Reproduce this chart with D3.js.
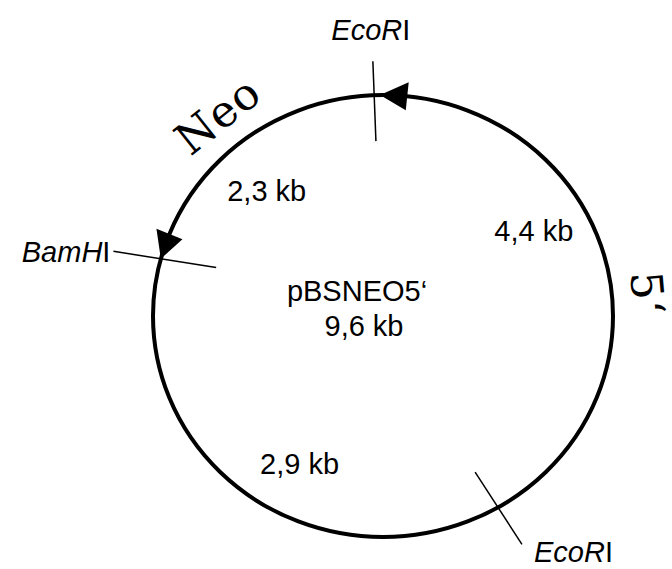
<!DOCTYPE html>
<html>
<head>
<meta charset="utf-8">
<script src="https://cdn.jsdelivr.net/npm/d3@7"></script>
<style>
html, body { margin: 0; padding: 0; background: #fff; }
</style>
</head>
<body>
<svg id="map" width="672" height="569"></svg>
<script>
// plasmid
const plasmidName = "pBSNEO5‘"
const plasmidSize = "9,6 kb"

// restriction sites (angle in degrees, clockwise from top)
const siteItalic = ["EcoR", "BamH", "EcoR"]
const siteRoman = ["I", "I", "I"]
const siteAngles = [-2.2, 285, 150]

// fragment sizes and where they sit inside the ring
const fragmentLabels = ["4,4 kb", "2,9 kb", "2,3 kb"]
const fragmentAngles = [59.6, 208.5, -41.7]

// features written along the outside of the ring
const featureNames = ["Neo", "5‘"]
const featureAngles = [-38.5, 85]

// direction arrows (tip angle), pointing counter-clockwise
const arrowAngles = [-0.75, 285]

const svg = d3.select("#map")
const cx = 383, cy = 316, rx = 230, ry = 221
const deg = d3.scaleLinear().domain([0, 360]).range([0, 2 * Math.PI])
const sans = "'Liberation Sans', Arial, sans-serif"

// point on the ring at angle a, pushed out by d pixels, turned by tilt degrees
const at = (a, d = 0, tilt = 0) => {
	const t = deg(a)
	const p = [cx + rx * Math.sin(t), cy - ry * Math.cos(t)]
	const u = deg(a + tilt)
	return [p[0] + d * Math.sin(u), p[1] - d * Math.cos(u)]
}

svg.append("ellipse")
	.attr("cx", cx)
	.attr("cy", cy)
	.attr("rx", rx)
	.attr("ry", ry)
	.attr("fill", "none")
	.attr("stroke", "#000")
	.attr("stroke-width", 4)

// arrow heads
svg.selectAll(".arrow")
	.data(arrowAngles)
	.enter()
	.append("path")
	.attr("class", "arrow")
	.attr("fill", "#000")
	.attr("d", a => {
		const tip = at(a)
		const b = a + 6.8
		const t = deg(b)
		const base = at(b)
		const nx = Math.sin(t), ny = -Math.cos(t)
		const w = 14
		return "M" + tip + "L" + [base[0] + nx * w, base[1] + ny * w] +
			"L" + [base[0] - nx * w, base[1] - ny * w] + "Z"
	})

// site ticks: length inside, length outside, tilt
const tickIn = [46, 56, 42]
const tickOut = [34, 48, 44]
const tickTilt = [0, -6, -3]
svg.selectAll(".tick")
	.data(siteAngles)
	.enter()
	.append("line")
	.attr("class", "tick")
	.attr("x1", (a, i) => at(a, -tickIn[i], tickTilt[i])[0])
	.attr("y1", (a, i) => at(a, -tickIn[i], tickTilt[i])[1])
	.attr("x2", (a, i) => at(a, tickOut[i], tickTilt[i])[0])
	.attr("y2", (a, i) => at(a, tickOut[i], tickTilt[i])[1])
	.attr("stroke", "#000")
	.attr("stroke-width", 1.5)

// site labels, nudged off the tick end
const labelNudge = [[-2, -21], [-3, 11], [12, 18]]
const labelAnchor = a => {
	const s = Math.sin(deg(a))
	return s > 0.3 ? "start" : s < -0.3 ? "end" : "middle"
}
const siteLabel = svg.selectAll(".site")
	.data(siteAngles)
	.enter()
	.append("text")
	.attr("class", "site")
	.attr("x", (a, i) => at(a, tickOut[i], tickTilt[i])[0] + labelNudge[i][0])
	.attr("y", (a, i) => at(a, tickOut[i], tickTilt[i])[1] + labelNudge[i][1])
	.attr("text-anchor", labelAnchor)
	.attr("font-family", sans)
	.attr("font-size", 29)
siteLabel.append("tspan")
	.attr("font-style", "italic")
	.text((a, i) => siteItalic[i])
siteLabel.append("tspan")
	.text((a, i) => siteRoman[i])

// fragment sizes
svg.selectAll(".fragment")
	.data(fragmentLabels)
	.enter()
	.append("text")
	.attr("class", "fragment")
	.attr("x", (d, i) => cx + rx * 0.76 * Math.sin(deg(fragmentAngles[i])))
	.attr("y", (d, i) => cy - ry * 0.76 * Math.cos(deg(fragmentAngles[i])))
	.attr("dy", "0.35em")
	.attr("text-anchor", "middle")
	.attr("font-family", sans)
	.attr("font-size", 29)
	.text(d => d)

// name in the middle
svg.append("text")
	.attr("x", cx - 26)
	.attr("y", cy - 15)
	.attr("text-anchor", "middle")
	.attr("font-family", sans)
	.attr("font-size", 29)
	.text(plasmidName)
svg.append("text")
	.attr("x", cx - 19)
	.attr("y", cy + 20)
	.attr("text-anchor", "middle")
	.attr("font-family", sans)
	.attr("font-size", 29)
	.text(plasmidSize)

// features along the ring
svg.selectAll(".feature")
	.data(featureNames)
	.enter()
	.append("text")
	.attr("class", "feature")
	.attr("transform", (d, i) => {
		const p = at(featureAngles[i], 20)
		return "translate(" + p + ") rotate(" + featureAngles[i] + ")"
	})
	.attr("text-anchor", "middle")
	.attr("font-family", "'DejaVu Serif', 'Courier New', serif")
	.attr("font-size", 44)
	.attr("letter-spacing", 1)
	.text(d => d)
</script>
</body>
</html>
